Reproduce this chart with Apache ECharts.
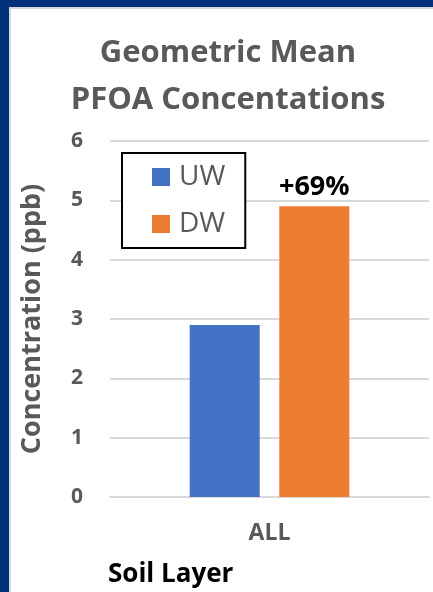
<!DOCTYPE html>
<html>
<head>
<meta charset="utf-8">
<script src="https://cdn.jsdelivr.net/npm/echarts@6/dist/echarts.min.js"></script>
<style>
  html, body { margin: 0; padding: 0; }
  body { width: 433px; height: 592px; background: #00307a; position: relative; overflow: hidden; }
  #panel { position: absolute; left: 9px; top: 7px; right: 0; bottom: 0; background: #fff;
           border-left: 2px solid #d9d9d9; border-top: 2px solid #d9d9d9; }
  #main { position: absolute; left: 0; top: 0; width: 433px; height: 592px; }
</style>
</head>
<body>
<div id="panel"></div>
<div id="main"></div>
<script>
let categories = ['ALL'];
let uwValues = [2.9];
let dwValues = [4.9];
let dwLabels = ['+69%'];
let yTicks = [0, 1, 2, 3, 4, 5, 6];

let fontName = 'Open Sans';
let grey = '#595959';

let myChart = echarts.init(document.getElementById('main'));
let option = {
    backgroundColor: 'transparent',
    title: [
        {
            text: 'Geometric Mean\nPFOA Concentations',
            left: 223,
            top: 25,
            textAlign: 'center',
            textStyle: {
                fontFamily: fontName,
                fontSize: 31,
                fontWeight: 'bold',
                color: grey,
                lineHeight: 47
            }
        },
        {
            text: 'Soil Layer',
            left: 103,
            top: 557,
            textStyle: {
                fontFamily: fontName,
                fontSize: 26,
                fontWeight: 'bold',
                color: '#000'
            }
        }
    ],
    legend: {
        orient: 'vertical',
        left: 122,
        top: 153,
        padding: [10, 20, 10, 30],
        itemGap: 19,
        itemWidth: 18,
        itemHeight: 18,
        icon: 'rect',
        backgroundColor: '#fff',
        borderColor: '#000',
        borderWidth: 2,
        textStyle: {
            fontFamily: fontName,
            fontSize: 28,
            lineHeight: 28,
            padding: [0, 0, 0, 4],
            color: grey
        },
        data: ['UW', 'DW']
    },
    grid: {
        left: 110,
        right: 4,
        top: 141,
        bottom: 95,
        containLabel: false
    },
    xAxis: {
        type: 'category',
        data: categories,
        axisLine: { lineStyle: { color: '#d9d9d9', width: 2 } },
        axisTick: { show: false },
        axisLabel: {
            margin: 25,
            fontFamily: fontName,
            fontSize: 23,
            fontWeight: 'bold',
            color: grey
        }
    },
    yAxis: {
        type: 'value',
        min: yTicks[0],
        max: yTicks[yTicks.length - 1],
        interval: 1,
        name: 'Concentration (ppb)',
        nameLocation: 'middle',
        nameRotate: 90,
        nameGap: 64,
        nameTextStyle: {
            fontFamily: fontName,
            fontSize: 27,
            fontWeight: 'bold',
            color: grey
        },
        axisLine: { show: false },
        axisTick: { show: false },
        axisLabel: {
            margin: 27,
            fontFamily: fontName,
            fontSize: 21,
            fontWeight: 'bold',
            color: grey
        },
        splitLine: { lineStyle: { color: '#d9d9d9', width: 2 } }
    },
    series: [
        {
            name: 'UW',
            type: 'bar',
            data: uwValues,
            barWidth: 70,
            barGap: '28%',
            itemStyle: { color: '#4472c4' }
        },
        {
            name: 'DW',
            type: 'bar',
            data: dwValues,
            barWidth: 70,
            itemStyle: { color: '#ed7d31' },
            label: {
                show: true,
                position: 'top',
                distance: 5,
                formatter: function (p) { return dwLabels[p.dataIndex]; },
                fontFamily: fontName,
                fontSize: 27,
                fontWeight: 'bold',
                color: '#000'
            }
        }
    ]
};
myChart.setOption(option);
</script>
</body>
</html>
